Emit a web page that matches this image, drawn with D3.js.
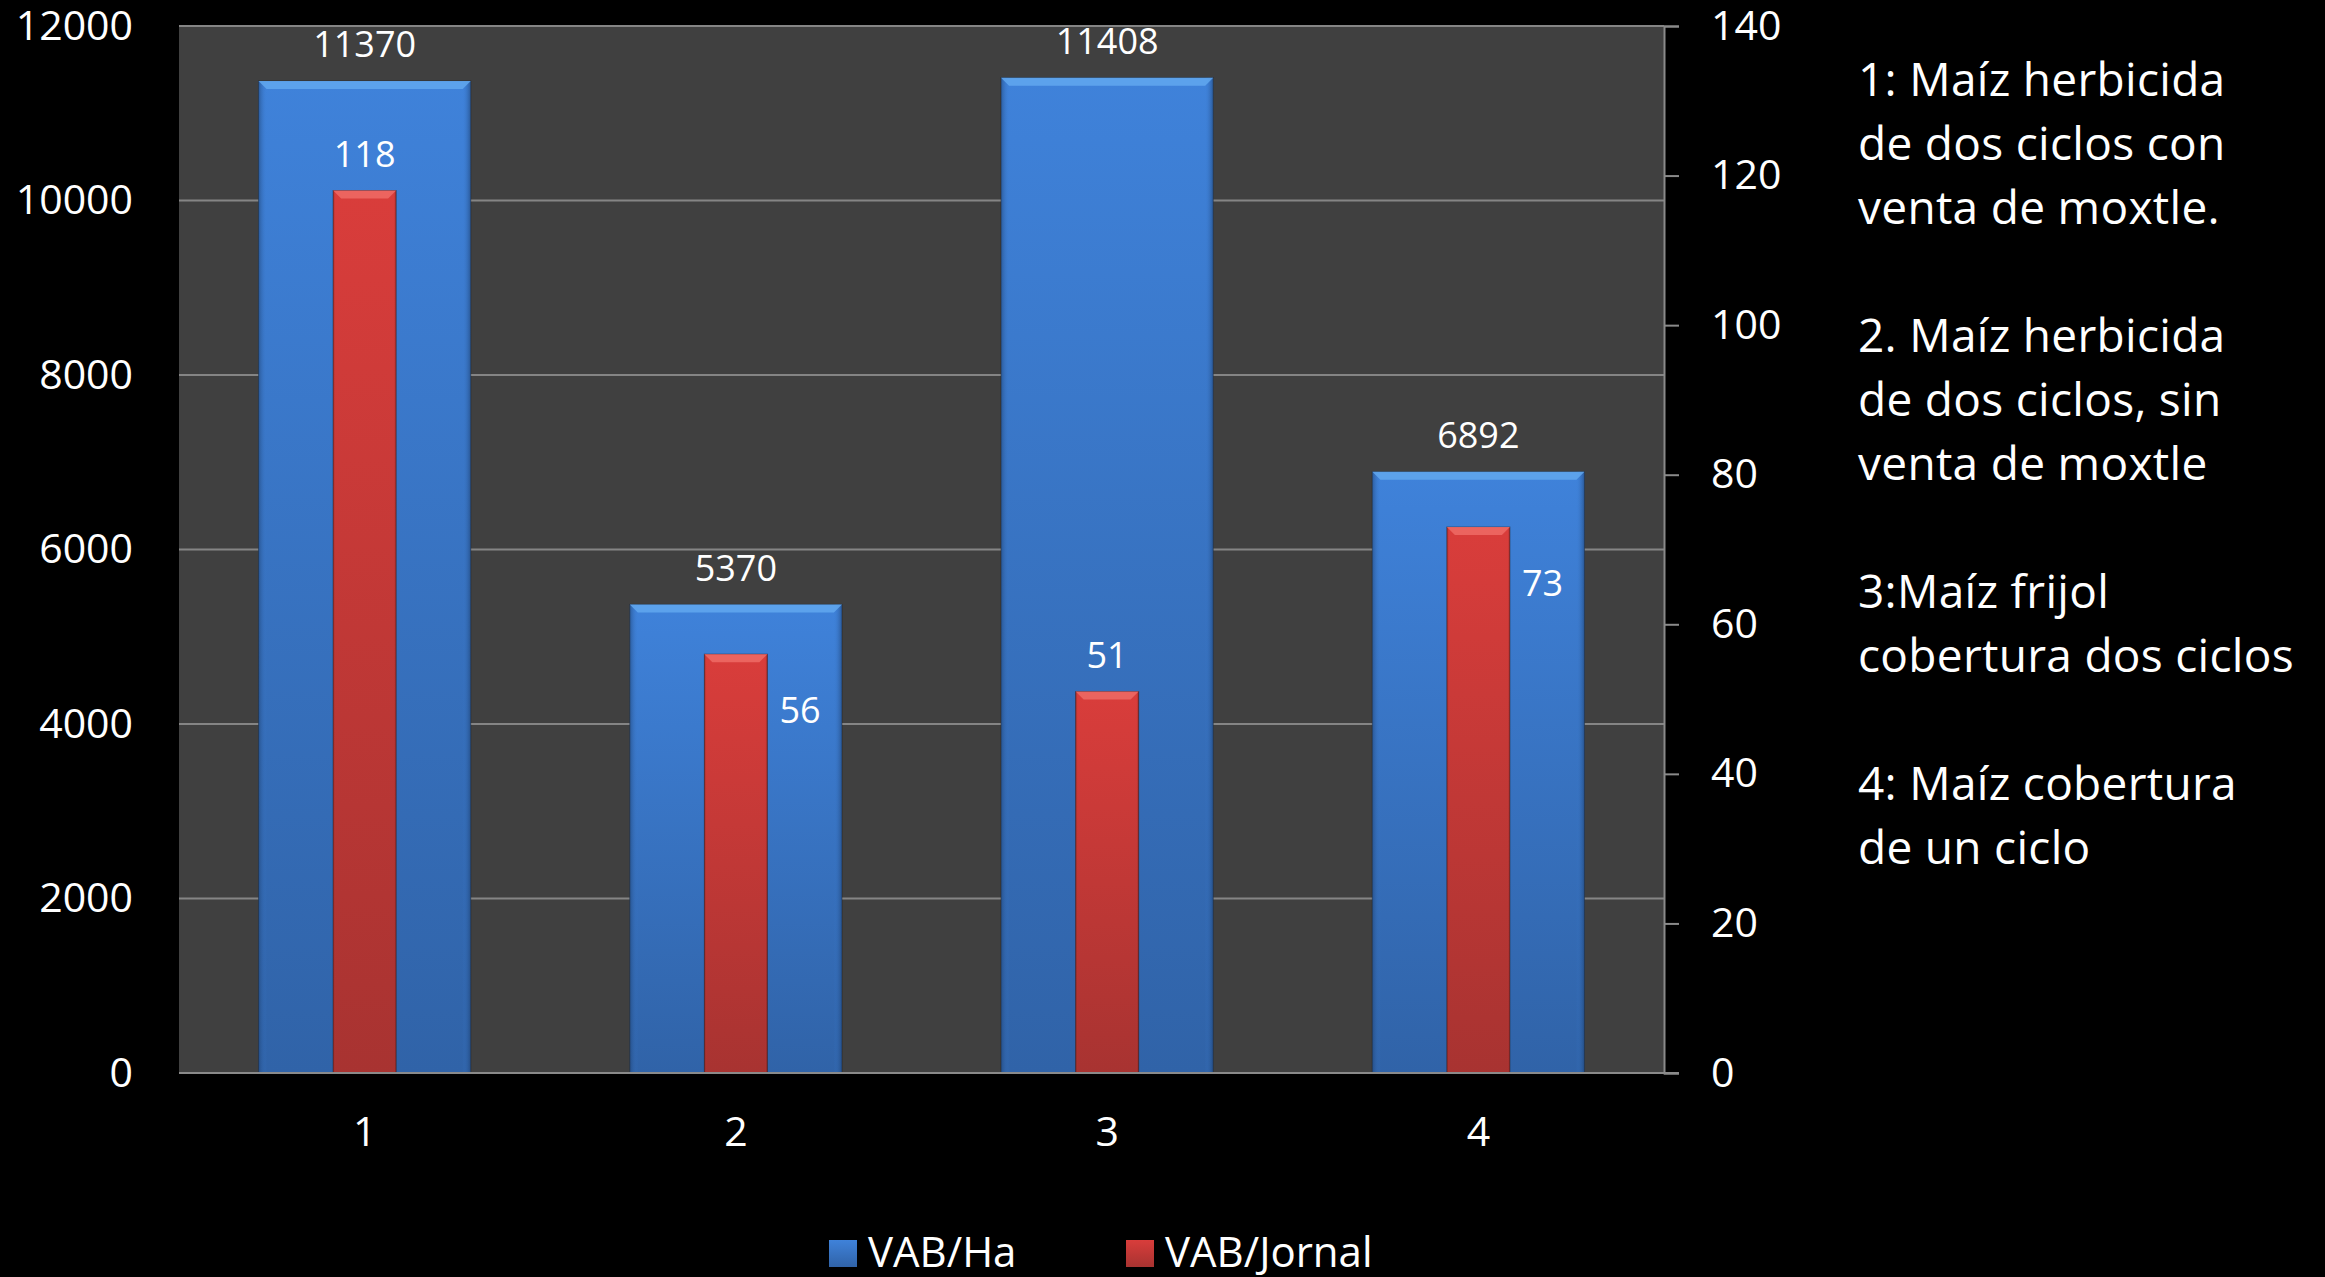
<!DOCTYPE html>
<html>
<head>
<meta charset="utf-8">
<script src="https://cdn.jsdelivr.net/npm/d3@7"></script>
<style>
  body { margin: 0; background: #000; }
  text { font-family: "Open Sans", sans-serif; fill: #fff; }
</style>
</head>
<body>
<svg id="chart" width="2325" height="1277"></svg>
<script>
const categories = ["1", "2", "3", "4"];
const vabHa = [11370, 5370, 11408, 6892];
const vabJornal = [118, 56, 51, 73];
const jornalLabelSide = ["top", "right", "top", "right"];
const leftTicks = [0, 2000, 4000, 6000, 8000, 10000, 12000];
const rightTicks = [0, 20, 40, 60, 80, 100, 120, 140];
const seriesNames = ["VAB/Ha", "VAB/Jornal"];
const notes = [
    ["1: Maíz herbicida", "de dos ciclos con", "venta de moxtle."],
    ["2. Maíz herbicida", "de dos ciclos, sin", "venta de moxtle"],
    ["3:Maíz frijol", "cobertura dos ciclos"],
    ["4: Maíz cobertura", "de un ciclo"]
];

const svg = d3.select("#chart");
const plot = { left: 179, top: 26, right: 1664, bottom: 1073 };

svg.append("rect").attr("width", 2325).attr("height", 1277).attr("fill", "#000");

// gradients for the bars
const defs = svg.append("defs");
function grad(id, top, bottom) {
    const g = defs.append("linearGradient").attr("id", id)
        .attr("x1", 0).attr("y1", 0).attr("x2", 0).attr("y2", 1);
    g.append("stop").attr("offset", "0%").attr("stop-color", top);
    g.append("stop").attr("offset", "100%").attr("stop-color", bottom);
}
grad("blueGrad", "#3f82da", "#3063a8");
grad("redGrad", "#d93d3b", "#a83331");
function sideGrad(id, edge, mid) {
    const g = defs.append("linearGradient").attr("id", id)
        .attr("x1", 0).attr("y1", 0).attr("x2", 1).attr("y2", 0);
    g.append("stop").attr("offset", "0%").attr("stop-color", edge).attr("stop-opacity", 0.55);
    g.append("stop").attr("offset", "4%").attr("stop-color", mid).attr("stop-opacity", 0);
    g.append("stop").attr("offset", "96%").attr("stop-color", mid).attr("stop-opacity", 0);
    g.append("stop").attr("offset", "100%").attr("stop-color", edge).attr("stop-opacity", 0.6);
}
sideGrad("blueSide", "#1d3f6e", "#3f82da");
sideGrad("redSide", "#5e1a18", "#d93d3b");

const x = d3.scaleBand().domain(categories).range([plot.left, plot.right]).padding(0);
const yL = d3.scaleLinear().domain([0, 12000]).range([plot.bottom, plot.top]);
const yR = d3.scaleLinear().domain([0, 140]).range([plot.bottom, plot.top]);

// plot background
svg.append("rect")
    .attr("x", plot.left).attr("y", plot.top)
    .attr("width", plot.right - plot.left).attr("height", plot.bottom - plot.top)
    .attr("fill", "#404040");

// gridlines
svg.append("g").selectAll("line").data(leftTicks.filter(d => d > 0)).enter().append("line")
    .attr("x1", plot.left).attr("x2", plot.right)
    .attr("y1", d => yL(d)).attr("y2", d => yL(d))
    .attr("stroke", "#858585").attr("stroke-width", 2);

const blueW = x.bandwidth() / 1.75;
const redW = 63;

function drawBars(cls, values, scale, w, fill, side, light) {
    const g = svg.append("g").attr("class", cls);
    const bars = g.selectAll("g").data(values).enter().append("g");
    bars.append("rect")
        .attr("x", (d, i) => x(categories[i]) + x.bandwidth() / 2 - w / 2)
        .attr("y", d => scale(d))
        .attr("width", w)
        .attr("height", d => plot.bottom - scale(d))
        .attr("fill", `url(#${fill})`)
        .attr("stroke", "#1c1c1c").attr("stroke-opacity", 0.5).attr("stroke-width", 1);
    bars.append("rect")
        .attr("x", (d, i) => x(categories[i]) + x.bandwidth() / 2 - w / 2)
        .attr("y", d => scale(d))
        .attr("width", w)
        .attr("height", d => plot.bottom - scale(d))
        .attr("fill", `url(#${side})`);
    // bevel on top edge
    bars.append("path")
        .attr("d", (d, i) => {
            const x0 = x(categories[i]) + x.bandwidth() / 2 - w / 2;
            const y0 = scale(d);
            return `M${x0},${y0}L${x0 + w},${y0}L${x0 + w - 8},${y0 + 8}L${x0 + 8},${y0 + 8}Z`;
        })
        .attr("fill", light).attr("opacity", 0.85);
}
drawBars("ha", vabHa, yL, blueW, "blueGrad", "blueSide", "#62a8ee");
drawBars("jornal", vabJornal, yR, redW, "redGrad", "redSide", "#ee6b66");

// axis lines
svg.append("line")
    .attr("x1", plot.left).attr("x2", plot.right + 15)
    .attr("y1", plot.bottom).attr("y2", plot.bottom)
    .attr("stroke", "#8a8a8a").attr("stroke-width", 2);

const rightAxis = d3.axisRight(yR).tickValues(rightTicks).tickSize(15).tickPadding(32);
const gR = svg.append("g").attr("transform", `translate(${plot.right},0)`).call(rightAxis);
gR.select(".domain").attr("stroke", "#8a8a8a").attr("stroke-width", 2);
gR.selectAll(".tick line").attr("stroke", "#8a8a8a").attr("stroke-width", 2);
gR.selectAll(".tick text").attr("fill", "#fff").style("font-size", "41px")
    .style("font-family", "'Open Sans', sans-serif");

const leftAxis = d3.axisLeft(yL).tickValues(leftTicks).tickFormat(d3.format("d"))
    .tickSize(0).tickPadding(46);
const gL = svg.append("g").attr("transform", `translate(${plot.left},0)`).call(leftAxis);
gL.select(".domain").remove();
gL.selectAll(".tick text").attr("fill", "#fff").style("font-size", "41px")
    .style("font-family", "'Open Sans', sans-serif");

const bottomAxis = d3.axisBottom(x).tickSize(0).tickPadding(44);
const gB = svg.append("g").attr("transform", `translate(0,${plot.bottom})`).call(bottomAxis);
gB.select(".domain").remove();
gB.selectAll(".tick text").attr("fill", "#fff").style("font-size", "41px")
    .style("font-family", "'Open Sans', sans-serif");

// data labels
svg.append("g").selectAll("text").data(vabHa).enter().append("text")
    .attr("x", (d, i) => x(categories[i]) + x.bandwidth() / 2)
    .attr("y", d => yL(d) - 37)
    .attr("text-anchor", "middle").attr("dominant-baseline", "central")
    .style("font-size", "36px")
    .text(d => d);

svg.append("g").selectAll("text").data(vabJornal).enter().append("text")
    .attr("x", (d, i) => {
        const cx = x(categories[i]) + x.bandwidth() / 2;
        return jornalLabelSide[i] === "top" ? cx : cx + redW / 2 + 12;
    })
    .attr("y", (d, i) => jornalLabelSide[i] === "top" ? yR(d) - 37 : yR(d) + 55)
    .attr("text-anchor", (d, i) => jornalLabelSide[i] === "top" ? "middle" : "start")
    .attr("dominant-baseline", "central")
    .style("font-size", "36px")
    .text(d => d);

// legend
const legend = svg.append("g").attr("transform", "translate(829,1240)");
const legendX = [0, 297];
const legendFill = ["url(#blueGrad)", "url(#redGrad)"];
seriesNames.forEach((name, i) => {
    legend.append("rect").attr("x", legendX[i]).attr("y", 0)
        .attr("width", 28).attr("height", 27).attr("fill", legendFill[i]);
    legend.append("text").attr("x", legendX[i] + 39).attr("y", 27)
        .style("font-size", "42px").text(name);
});

// notes on the right
const noteG = svg.append("g").attr("transform", "translate(1858,96)");
let line = 0;
notes.forEach(block => {
    block.forEach(t => {
        noteG.append("text").attr("x", 0).attr("y", line * 64)
            .style("font-size", "46px").style("letter-spacing", "0.3px").text(t);
        line++;
    });
    line++;
});
</script>
</body>
</html>
